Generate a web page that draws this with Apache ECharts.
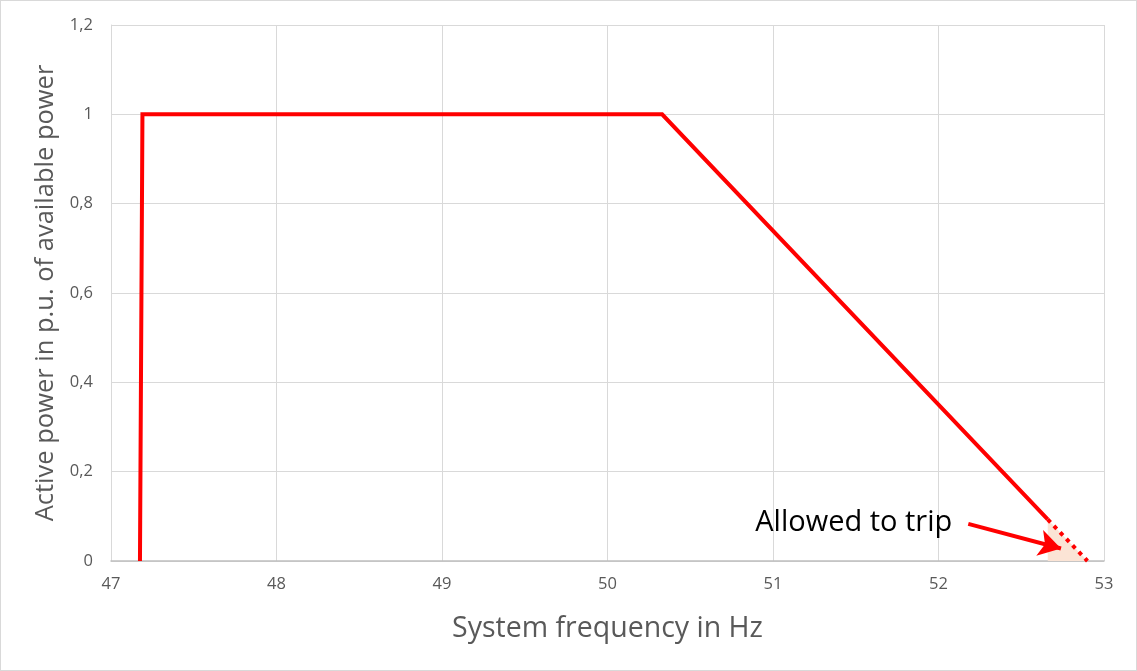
<!DOCTYPE html>
<html><head><meta charset="utf-8">
<script src="https://cdn.jsdelivr.net/npm/echarts@6/dist/echarts.min.js"></script>
<style>html,body{margin:0;padding:0;background:#fff}#c{width:1135px;height:669px;border:1px solid #d9d9d9}</style>
</head><body><div id="c"></div>
<script>
const xTicks = [47, 48, 49, 50, 51, 52, 53];
const yTicks = [0, 0.2, 0.4, 0.6, 0.8, 1, 1.2];
const solidCurve = [[47.175, 0], [47.19, 1], [50.33, 1], [52.66, 0.093]];
const dottedCurve = [[52.66, 0.093], [52.9, 0]];
const tripArea = [[52.66, 0.093], [52.9, 0]];
const arrowFrom = [52.18, 0.083];
const arrowTo = [52.74, 0.028];
const annotationText = 'Allowed to trip';

const chart = echarts.init(document.getElementById('c'));
const fmt = v => String(+v.toFixed(1)).replace('.', ',');
chart.setOption({
  animation: false,
  grid: {left: 110, right: 32, top: 24, bottom: 109, containLabel: false},
  xAxis: {
    type: 'value', min: xTicks[0], max: xTicks[xTicks.length-1], interval: 1,
    name: 'System frequency in Hz', nameLocation: 'middle', nameGap: 53,
    nameTextStyle: {fontSize: 28.5, color: '#595959', fontFamily: 'Open Sans'},
    axisLine: {show: true, lineStyle: {color: '#bfbfbf', width: 1.5}},
    axisTick: {show: false},
    axisLabel: {fontSize: 16.5, color: '#595959', margin: 15, fontFamily: 'Open Sans'},
    splitLine: {show: true, lineStyle: {color: '#d9d9d9', width: 1}}
  },
  yAxis: {
    type: 'value', min: yTicks[0], max: yTicks[yTicks.length-1], interval: 0.2,
    name: 'Active power in p.u. of available power', nameLocation: 'middle', nameGap: 51,
    nameTextStyle: {fontSize: 25.5, color: '#595959', fontFamily: 'Open Sans'},
    axisLine: {show: true, lineStyle: {color: '#d9d9d9', width: 1}},
    axisTick: {show: false},
    axisLabel: {fontSize: 16.5, color: '#595959', margin: 18, formatter: fmt, fontFamily: 'Open Sans'},
    splitLine: {show: true, lineStyle: {color: '#d9d9d9', width: 1}}
  },
  series: [
    {type: 'line', data: tripArea, symbol: 'none', lineStyle: {width: 0, opacity: 0},
     areaStyle: {color: '#fbe4d5', opacity: 1}, z: 1},
    {type: 'line', data: solidCurve, symbol: 'none',
     lineStyle: {color: '#ff0000', width: 4, join: 'miter', cap: 'butt'}, z: 3},
    {type: 'line', data: dottedCurve, symbol: 'none',
     lineStyle: {color: '#ff0000', width: 4, type: [4, 5], cap: 'butt'}, z: 3,
     markLine: {
       silent: true, symbol: ['none', 'arrow'], symbolSize: [20, 22],
       lineStyle: {color: '#ff0000', width: 4, type: 'solid'},
       label: {show: false},
       data: [[{coord: arrowFrom}, {coord: arrowTo}]]
     }}
  ]
});
const p = chart.convertToPixel({gridIndex: 0}, arrowFrom);
chart.setOption({graphic: [{type: 'text', right: 1137 - (p[0] - 14), top: p[1] - 16,
  style: {text: annotationText, fontSize: 29, fill: '#000', fontFamily: 'Open Sans'}}]});
</script></body></html>
